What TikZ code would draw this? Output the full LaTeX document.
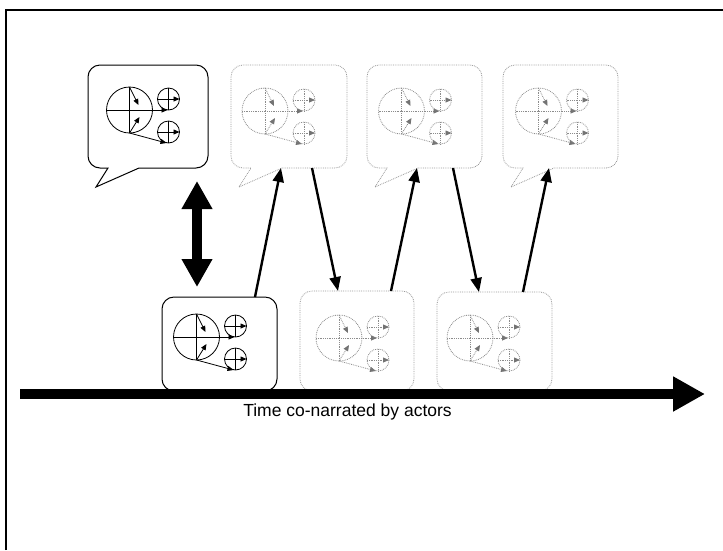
\documentclass[tikz,border=0pt]{standalone}
\usepackage{fontspec}
\setmainfont{Liberation Sans}
\usetikzlibrary{arrows.meta}

\tikzset{
  x=1pt, y=-1pt,
  % outlines of the speaking / acting frames
  firmframe/.style={draw=black, line width=1pt},
  faintframe/.style={draw=black!40, line width=0.8pt, densely dotted},
  % strokes of the small circle-and-arrow figure inside each frame
  firmglyph/.style={draw=black, line width=0.8pt, glyphtip/.style={-{Triangle[length=6pt,width=5pt]}}},
  faintglyph/.style={draw=black!45, line width=0.8pt, densely dotted,
    glyphtip/.style={-{Triangle[length=6pt,width=5pt,color=black!55,fill=black!55]}}},
  hop/.style={draw=black, line width=2.4pt, -{Triangle[length=14pt,width=11pt]}},
  fatboth/.style={draw=black, line width=10pt,
    {Triangle[length=28pt,width=29pt]}-{Triangle[length=28pt,width=29pt]}},
  timeline/.style={draw=black, line width=10pt, -{Triangle[length=32pt,width=33pt]}},
  caption/.style={font=\fontsize{17.5}{20}\selectfont, inner sep=0pt, anchor=base}
}

% #1 style, #2 #3 centre of the large circle
\newcommand\actorglyph[3]{%
  \begin{scope}[shift={(#2,#3)}, #1]
    \draw (0,0) circle[radius=23];
    \draw (0,-23) -- (0,23);
    \draw[glyphtip] (-23,0) -- (38,0);
    \draw[glyphtip] (0,-23) -- (9,-5);
    \draw[glyphtip] (0,23) -- (10,7);
    \draw[glyphtip] (0,23) -- (37,33);
    \foreach \sy in {-11,22}{
      \draw (39,\sy) circle[radius=11];
      \draw (39,\sy-11) -- (39,\sy+11);
      \draw[glyphtip] (28,\sy) -- (50,\sy);
    }
  \end{scope}}

% #1 style, #2 left edge, #3 right edge
\newcommand\speechframe[3]{%
  \draw[#1] ({#2+8},187) -- ({#2+51},168) [rounded corners=12] -- (#3,168)
    -- (#3,65) -- (#2,65) -- (#2,168) [sharp corners] -- ({#2+20},168) -- cycle;}

\begin{document}
\begin{tikzpicture}
\useasboundingbox (0,0) rectangle (723,550);
\fill[white] (0,0) rectangle (723,550);

% page frame
\draw[line width=2pt] (6,550) -- (6,10) -- (723,10);

% speech bubbles on the upper row
\speechframe{firmframe}{88}{208}
\speechframe{faintframe}{231}{347}
\speechframe{faintframe}{367}{482}
\speechframe{faintframe}{503}{618}
\actorglyph{firmglyph}{129.5}{110}
\actorglyph{faintglyph}{265}{111}
\actorglyph{faintglyph}{401.5}{111}
\actorglyph{faintglyph}{538.5}{111}

% acting boxes on the lower row
\draw[firmframe, rounded corners=12] (162,297) rectangle (277,391);
\draw[faintframe, rounded corners=12] (300,291) rectangle (414,391);
\draw[faintframe, rounded corners=12] (437,292) rectangle (552,391);
\actorglyph{firmglyph}{196.5}{337}
\actorglyph{faintglyph}{339}{338}
\actorglyph{faintglyph}{470}{338}

% connector end points on the frame edges
\coordinate (saytop) at (197,181);
\coordinate (actbottom) at (197,287);
\coordinate (actA) at (255,297);
\coordinate (sayB) at (281,168);
\coordinate (sayBout) at (312,168);
\coordinate (actBin) at (338,291);
\coordinate (actBout) at (391,291);
\coordinate (sayCin) at (417,168);
\coordinate (sayCout) at (453,168);
\coordinate (actCin) at (479,292);
\coordinate (actCout) at (523,292);
\coordinate (sayD) at (549,168);
\coordinate (timestart) at (20,394);
\coordinate (timeend) at (705,394);

\draw[fatboth] (saytop) -- (actbottom);
\draw[hop] (actA) -- (sayB);
\draw[hop] (sayBout) -- (actBin);
\draw[hop] (actBout) -- (sayCin);
\draw[hop] (sayCout) -- (actCin);
\draw[hop] (actCout) -- (sayD);

% time axis
\draw[timeline] (timestart) -- (timeend);
\node[caption] (timelabel) at (347.5,416) {Time co-narrated by actors};
\end{tikzpicture}
\end{document}
